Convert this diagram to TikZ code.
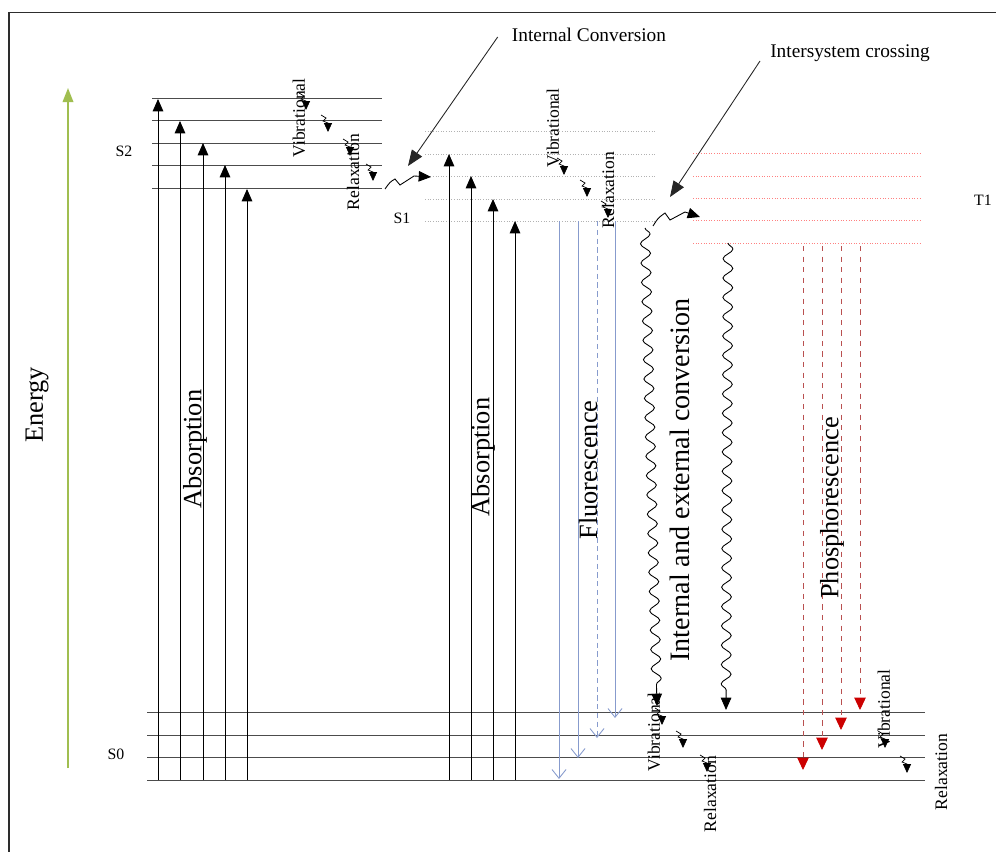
\documentclass[tikz,border=0pt]{standalone}
\usepackage{fontspec}
\setmainfont{Liberation Serif}
\usetikzlibrary{arrows.meta,decorations.pathmorphing}
\tikzset{every picture/.style={line width=0.5pt}}
\definecolor{energygreen}{RGB}{160,190,80}
\definecolor{fluoblue}{RGB}{135,155,205}
\definecolor{phosred}{RGB}{185,80,80}

\begin{document}
\begin{tikzpicture}[x=0.02cm, y=-0.02cm,
    level/.style={gray!60!black},
    slevel/.style={gray!60, densely dotted},
    tlevel/.style={red!50, densely dotted},
    absorb/.style={-{Triangle[length=7pt,width=6pt]}},
    fluor/.style={-{Straight Barb[length=5pt,width=8pt]}, fluoblue},
    phos/.style={-{Triangle[length=7pt,width=6.5pt,color=red!80!black]}, phosred, dashed},
    wave/.style={decorate, decoration={snake, amplitude=2.8pt, segment length=11pt, post length=7pt}},
    vib/.style={-{Triangle[length=5pt,width=4.5pt]}, line width=0.4pt},
    pointer/.style={-{Triangle[length=9pt,width=7pt]}, gray!30!black},
    big/.style={font=\fontsize{15}{17}\selectfont},
    small/.style={font=\fontsize{10}{12}\selectfont},
    tag/.style={font=\fontsize{9}{11}\selectfont}]
    \useasboundingbox (0,0) rectangle (996,851);
    \clip (0,0) rectangle (996,851);

    % Frame
    \draw[line width=1.1pt, gray!35!black] (9,12.5) rectangle (1010,870);

    % Energy axis
    \draw[-{Triangle[length=8pt,width=6pt]}, line width=1pt, energygreen] (68,768) -- (68,88);
    \node[big, rotate=90] (energy) at (37,405) {Energy};

    % Singlet and triplet levels
    \foreach \y in {98,120,143,165,188} \draw[level] (152,\y) -- (382,\y);
    \foreach \y in {131,154,176,199,221} \draw[slevel] (425,\y) -- (655,\y);
    \foreach \y in {153,176,198,220,243} \draw[tlevel] (693,\y) -- (921,\y);
    \foreach \y in {712,735,757,780} \draw[level] (147,\y) -- (925,\y);

    \node[tag] (s2) at (124,151) {S2};
    \node[tag] (s1) at (402,218) {S1};
    \node[tag] (s0) at (116,754) {S0};
    \node[tag] (t1) at (983,200) {T1};

    % Absorption
    \foreach \x/\y in {158/99,180/121,203/143,225/165,247/189} \draw[absorb] (\x,780) -- (\x,\y);
    \foreach \x/\y in {449/154,471/176,493/199,515/221} \draw[absorb] (\x,780) -- (\x,\y);
    \node[big, rotate=90] (abs1) at (195,449) {Absorption};
    \node[big, rotate=90] (abs2) at (483,457) {Absorption};

    % Fluorescence
    \foreach \x/\y in {559/779,578/758,615/718} \draw[fluor] (\x,221) -- (\x,\y);
    \draw[fluor, densely dashed] (597,221) -- (597,738);
    \node[big, rotate=90] (fluo) at (588,470) {Fluorescence};

    % Non-radiative decay
    \draw[wave, -{Triangle[length=7pt,width=6pt]}] (645,228) -- (657,706);
    \draw[wave, -{Triangle[length=7pt,width=6pt]}] (728,243) -- (726,710);
    \node[rotate=90, font=\fontsize{16}{18}\selectfont] (conv) at (680,480) {Internal and external conversion};

    % Phosphorescence
    \foreach \x/\y in {803/770,822/750,841/730,860/710} \draw[phos] (\x,246) -- (\x,\y);
    \node[big, rotate=90] (phosph) at (832,508) {Phosphorescence};

    % Vibrational relaxation
    \foreach \x/\y in {306/110,328/132,350/156,373/181,564/175,587/197,608/218,662/725,683/748,707/772,885/748,907/773}
        \draw[vib] (\x-7,\y-17) -- (\x-2,\y-14) -- (\x-5,\y-11) -- (\x,\y-9) -- (\x,\y);
    \node[small, rotate=90] (vib2) at (299,118) {Vibrational};
    \node[small, rotate=90] (rel2) at (353,172) {Relaxation};
    \node[small, rotate=90] (vib1) at (553,128) {Vibrational};
    \node[small, rotate=90] (rel1) at (608,190) {Relaxation};
    \node[small, rotate=90] (vib0) at (654,732) {Vibrational};
    \node[small, rotate=90] (rel0) at (710,794) {Relaxation};
    \node[small, rotate=90] (vib0b) at (884,709) {Vibrational};
    \node[small, rotate=90] (rel0b) at (941,772) {Relaxation};

    % Internal conversion and intersystem crossing
    \draw[-{Triangle[length=7pt,width=6pt]}] (385,189) .. controls (390,182) .. (395,179) -- (400,185) -- (414,176) -- (431,177);
    \draw[-{Triangle[length=7pt,width=6pt]}] (653,226) .. controls (658,218) .. (665,213) -- (670,220) -- (685,212) -- (700,217);
    \node[font=\fontsize{11}{13}\selectfont] (ic) at (589,35) {Internal Conversion};
    \node[font=\fontsize{11}{13}\selectfont] (isc) at (850,53) {Intersystem crossing};
    \coordinate (icend) at (408,166);
    \coordinate (iscend) at (670,197);
    \draw[pointer] (ic.west) ++(-8,2) -- (icend);
    \draw[pointer] (isc.west) ++(-4,8) -- (iscend);
\end{tikzpicture}
\end{document}
